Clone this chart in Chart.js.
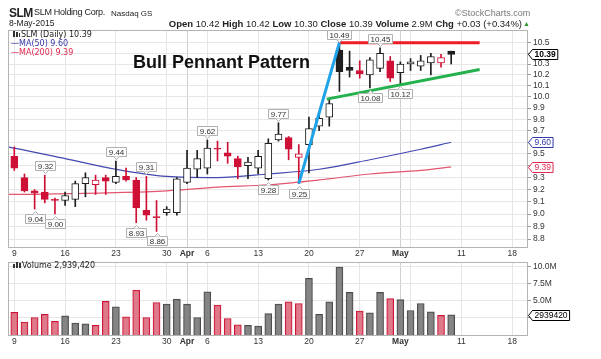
<!DOCTYPE html>
<html><head><meta charset="utf-8">
<script src="https://cdn.jsdelivr.net/npm/chart.js@4.4.1/dist/chart.umd.min.js"></script>
<style>
html,body{margin:0;padding:0;background:#fff;}
body{width:601px;height:359px;position:relative;overflow:hidden;}
.t{position:absolute;white-space:nowrap;line-height:1;font-family:"Liberation Sans",Arial,sans-serif;color:#222;}
.d{font-family:"DejaVu Sans",Verdana,sans-serif;}
#w1{position:absolute;left:0;top:0;width:601px;height:262px;}
#w2{position:absolute;left:0;top:255px;width:601px;height:104px;}
.ic{position:absolute;background:#333;}
</style></head><body>
<div id="w1"><canvas id="c1" width="601" height="262"></canvas></div>
<div id="w2"><canvas id="c2" width="601" height="104"></canvas></div>

<div class="t" style="left:9px;top:7px;font-size:12px;font-weight:bold;letter-spacing:-0.6px;">SLM</div>
<div class="t" style="left:34px;top:8px;font-size:9px;letter-spacing:-0.3px;">SLM Holding Corp.</div>
<div class="t" style="left:111px;top:9.5px;font-size:8px;">Nasdaq GS</div>
<div class="t" style="left:9px;top:19px;font-size:8.5px;">8-May-2015</div>
<div class="t" style="right:79px;top:18.5px;font-size:9.5px;"><b>Open</b> 10.42 <b>High</b> 10.42 <b>Low</b> 10.30 <b>Close</b> 10.39 <b>Volume</b> 2.9M <b>Chg</b> +0.03 (+0.34%)</div>
<div class="t" style="left:523px;top:20px;font-size:7px;color:#2a9a2a;">▲</div>
<div class="t" style="left:455px;top:8.5px;font-size:9px;color:#777;">©StockCharts.com</div>

<div class="ic" style="left:13px;top:31px;width:2px;height:6px;"></div>
<div class="ic" style="left:16px;top:32px;width:2px;height:5px;"></div>
<div class="ic" style="left:19px;top:33px;width:1px;height:4px;"></div>
<div class="t d" style="left:21px;top:30.5px;font-size:8px;color:#222;">SLM (Daily) 10.39</div>
<div class="t d" style="left:11px;top:39.5px;font-size:8px;color:#3438a8;">—MA(50) 9.60</div>
<div class="t d" style="left:11px;top:48.5px;font-size:8px;color:#e0284e;">—MA(200) 9.39</div>
<div class="t" style="left:133px;top:52.5px;font-size:18px;font-weight:bold;color:#111;">Bull Pennant Pattern</div>

<div class="ic" style="left:13px;top:264px;width:2px;height:4px;"></div>
<div class="ic" style="left:16px;top:262px;width:2px;height:6px;"></div>
<div class="ic" style="left:19px;top:263px;width:2px;height:5px;"></div>
<div class="t d" style="left:22px;top:261.5px;font-size:8px;color:#222;">Volume 2,939,420</div>

<script>
// ---------- DATA ----------
const dates = ['2015-03-09','2015-03-10','2015-03-11','2015-03-12','2015-03-13',
 '2015-03-16','2015-03-17','2015-03-18','2015-03-19','2015-03-20',
 '2015-03-23','2015-03-24','2015-03-25','2015-03-26','2015-03-27',
 '2015-03-30','2015-03-31','2015-04-01','2015-04-02',
 '2015-04-06','2015-04-07','2015-04-08','2015-04-09','2015-04-10',
 '2015-04-13','2015-04-14','2015-04-15','2015-04-16','2015-04-17',
 '2015-04-20','2015-04-21','2015-04-22','2015-04-23','2015-04-24',
 '2015-04-27','2015-04-28','2015-04-29','2015-04-30','2015-05-01',
 '2015-05-04','2015-05-05','2015-05-06','2015-05-07','2015-05-08'];
const opens  = [9.48,9.30,9.19,9.18,9.12, 9.11,9.12,9.25,9.24,9.30, 9.26,9.31,9.28,9.03,8.98, 9.01,9.01,9.26,9.37,
                9.38,9.55,9.51,9.46,9.40, 9.38,9.29,9.62,9.64,9.47, 9.58,9.74,9.82,10.43,10.27, 10.24,10.20,10.26,10.33,10.22,
                10.30,10.28,10.31,10.31,10.42];
const highs  = [9.56,9.33,9.20,9.32,9.13, 9.18,9.27,9.34,9.32,9.32, 9.44,9.38,9.30,9.31,9.11, 9.06,9.30,9.53,9.53,
                9.62,9.61,9.60,9.48,9.47, 9.53,9.63,9.77,9.65,9.58, 9.82,9.85,9.98,10.49,10.42, 10.33,10.36,10.45,10.37,10.32,
                10.35,10.38,10.40,10.39,10.42];
const lows   = [9.36,9.18,9.04,9.09,9.00, 9.07,9.06,9.14,9.16,9.16, 9.25,9.27,8.93,8.95,8.86, 8.99,8.99,9.25,9.30,
                9.33,9.44,9.42,9.29,9.29, 9.33,9.28,9.61,9.45,9.25, 9.34,9.70,9.74,10.05,10.18, 10.17,10.08,10.23,10.14,10.12,
                10.24,10.24,10.20,10.27,10.30];
const closes = [9.38,9.19,9.17,9.12,9.11, 9.15,9.25,9.30,9.28,9.27, 9.31,9.28,9.05,8.99,8.97, 9.04,9.29,9.38,9.46,
                9.55,9.54,9.48,9.39,9.43, 9.48,9.59,9.67,9.54,9.50, 9.72,9.81,9.94,10.23,10.24, 10.21,10.34,10.40,10.17,10.30,
                10.32,10.33,10.37,10.36,10.39];
const closeBeforeFirst = 9.55;
const volumes = [3.28e6,1.89e6,2.54e6,3.00e6,1.99e6, 2.78e6,1.75e6,1.61e6,1.39e6,4.90e6, 4.11e6,2.64e6,6.53e6,2.54e6,4.72e6,
                 4.49e6,5.22e6,4.49e6,2.54e6, 6.29e6,4.35e6,2.40e6,1.47e6,1.39e6, 1.29e6,3.10e6,4.49e6,4.81e6,4.58e6,
                 8.24e6,3.00e6,4.81e6,9.86e6,6.20e6, 3.47e6,3.24e6,6.20e6,5.28e6,5.14e6, 3.56e6,4.58e6,3.37e6,2.86e6,2939420];

const ma50Idx  = [-0.62,0,5,10,15,20,25,30,35,40,43];
const ma50Val  = [9.56,9.55,9.46,9.37,9.31,9.30,9.33,9.37,9.45,9.54,9.60];
const ma200Idx = [-0.62,0,10,15,20,25,30,35,40,43];
const ma200Val = [9.16,9.16,9.175,9.19,9.22,9.24,9.28,9.33,9.36,9.39];

const poleIdx = [28,32];       const poleVal = [9.25,10.50];
const resIdx  = [31.9,45.8];   const resVal  = [10.50,10.50];
const supIdx  = [30.75,45.8];  const supVal  = [9.98,10.25];

const markIdx = [3,2,4,10,13,12,14,19,26,25,28,32,36,35,38];
const markVal = [9.32,9.04,9.00,9.44,9.31,8.93,8.86,9.62,9.77,9.28,9.25,10.49,10.45,10.08,10.12];
const markPos = ['above','below','below','above','above','below','below','above','above','below','below','above','above','below','below'];

const xTickIdx  = [0,5,10,15,17,19,24,29,34,38,39,44,49];
const xTickText = ['9','16','23','30','Apr','6','13','20','27','May','','11','18'];
const monthTickIdx = [17,38];
const priceTicks = [8.8,8.9,9.0,9.1,9.2,9.3,9.4,9.5,9.6,9.7,9.8,9.9,10.0,10.1,10.2,10.3,10.4,10.5];
const volTicks = [2.5e6,5e6,7.5e6,10e6];
const volTickText = ['2.5M','5.0M','7.5M','10.0M'];

// ---------- STYLE ----------
const RED = '#cf1036', BLACK = '#1e1e1e';
const FONT = '"Liberation Sans", Arial, sans-serif';
Chart.defaults.font.family = FONT;
Chart.defaults.animation = false;

const up = dates.map((d,i)=> closes[i] >= (i===0 ? closeBeforeFirst : closes[i-1]));
const candleColor = up.map(u=> u ? BLACK : RED);

function xScaleOpts(h){
  return {
    type:'linear', min:-0.62, max:50.56, bounds:'data', offset:false,
    afterBuildTicks: s => { s.ticks = xTickIdx.map(v=>({value:v})); },
    afterFit: s => { s.height = h; },
    ticks:{ autoSkip:false, maxRotation:0, padding:2, color:'#333',
      callback:(v)=> { const k = xTickIdx.indexOf(v); return k>=0 ? xTickText[k] : ''; },
      font:(c)=>({family:FONT, size:8.5, weight: (c.tick && monthTickIdx.includes(c.tick.value)) ? 'bold':'normal'}) },
    grid:{ offset:false, drawTicks:false,
      color:(c)=> (c.tick && monthTickIdx.includes(c.tick.value)) ? '#cfcfcf' : '#e6e6e6' },
    border:{display:false}
  };
}

function frame(chart){
  const a = chart.chartArea, ctx = chart.ctx;
  ctx.save(); ctx.strokeStyle='#b4b4b4'; ctx.lineWidth=1;
  ctx.strokeRect(Math.round(a.left)+0.5, Math.round(a.top)+0.5, Math.round(a.right-a.left)-1, Math.round(a.bottom-a.top));
  ctx.restore();
}

function tag(ctx, xl, yc, text, color, bold){
  ctx.save();
  ctx.font = (bold?'bold ':'') + '8.5px ' + FONT;
  const w = ctx.measureText(text).width + 4, h = 10;
  yc = Math.round(yc)+0.5; xl = Math.round(xl)+0.5;
  ctx.beginPath();
  ctx.moveTo(xl, yc); ctx.lineTo(xl+4, yc-h/2); ctx.lineTo(xl+4+w, yc-h/2);
  ctx.lineTo(xl+4+w, yc+h/2); ctx.lineTo(xl+4, yc+h/2); ctx.closePath();
  ctx.fillStyle='#fff'; ctx.fill(); ctx.strokeStyle=color; ctx.lineWidth=1; ctx.stroke();
  ctx.fillStyle=color; ctx.textAlign='left'; ctx.textBaseline='middle';
  ctx.fillText(text, xl+6, yc+0.5);
  ctx.restore();
}

const pricePlugin = {
  id:'priceMarks',
  afterDatasetsDraw(chart){
    const ctx = chart.ctx, xs = chart.scales.x, ys = chart.scales.y;
    ctx.save();
    ctx.font = '8px ' + FONT; ctx.textAlign='center'; ctx.textBaseline='middle';
    markIdx.forEach((ix,k)=>{
      const x = Math.round(xs.getPixelForValue(ix)), y = ys.getPixelForValue(markVal[k]);
      const txt = markVal[k].toFixed(2);
      const w = Math.round(ctx.measureText(txt).width + 4), h = 9;
      const above = markPos[k]==='above';
      const by = Math.round(above ? y - 5 - h : y + 5);
      ctx.fillStyle='#fdfdfd'; ctx.strokeStyle='#b0b0b0'; ctx.lineWidth=1;
      ctx.beginPath();
      ctx.rect(x - w/2 + 0.5, by + 0.5, w, h);
      ctx.fill(); ctx.stroke();
      ctx.beginPath();
      if (above){ ctx.moveTo(x-2.5, by+h+0.5); ctx.lineTo(x+0.5, by+h+3.5); ctx.lineTo(x+3.5, by+h+0.5); }
      else { ctx.moveTo(x-2.5, by+0.5); ctx.lineTo(x+0.5, by-2.5); ctx.lineTo(x+3.5, by+0.5); }
      ctx.fill(); ctx.stroke();
      ctx.fillStyle='#333';
      ctx.fillText(txt, x+0.5, by + h/2 + 1);
    });
    ctx.restore();
  },
  afterDraw(chart){
    frame(chart);
    const ys = chart.scales.y, r = chart.chartArea.right;
    tag(chart.ctx, r, ys.getPixelForValue(ma50Val[ma50Val.length-1]), ma50Val[ma50Val.length-1].toFixed(2), '#3438a8', false);
    tag(chart.ctx, r, ys.getPixelForValue(ma200Val[ma200Val.length-1]), ma200Val[ma200Val.length-1].toFixed(2), '#e0284e', false);
    tag(chart.ctx, r, ys.getPixelForValue(closes[closes.length-1]), closes[closes.length-1].toFixed(2), '#000', true);
  }
};

const volPlugin = {
  id:'volMarks',
  afterDraw(chart){
    frame(chart);
    const ys = chart.scales.y, v = volumes[volumes.length-1];
    tag(chart.ctx, chart.chartArea.right, ys.getPixelForValue(v), String(v), '#000', false);
  }
};

// ---------- PRICE CHART ----------
new Chart(document.getElementById('c1'), {
  type:'bar',
  data:{ datasets:[
    { type:'line', data: resIdx.map((x,i)=>({x, y:resVal[i]})), borderColor:'#ee1c24', borderWidth:3, pointRadius:0, order:-3 },
    { type:'line', data: supIdx.map((x,i)=>({x, y:supVal[i]})), borderColor:'#22b14c', borderWidth:3, pointRadius:0, order:-2 },
    { type:'line', data: poleIdx.map((x,i)=>({x, y:poleVal[i]})), borderColor:'#1ea2e8', borderWidth:3, pointRadius:0, order:-4 },
    { type:'bar', data: dates.map((d,i)=>({x:i, y:[opens[i], closes[i]]})), grouped:false, barThickness:7,
      backgroundColor: dates.map((d,i)=> closes[i] < opens[i] ? candleColor[i] : '#ffffff'),
      borderColor: candleColor, borderWidth:1, borderSkipped:false, order:1 },
    { type:'bar', data: dates.map((d,i)=>({x:i, y:[lows[i], highs[i]]})), grouped:false, barThickness:1,
      backgroundColor: candleColor, borderWidth:0, order:2 },
    { type:'line', data: ma50Idx.map((x,i)=>({x, y:ma50Val[i]})), borderColor:'#4349b0', borderWidth:1.2, pointRadius:0, cubicInterpolationMode:'monotone', order:3 },
    { type:'line', data: ma200Idx.map((x,i)=>({x, y:ma200Val[i]})), borderColor:'#e2566e', borderWidth:1.2, pointRadius:0, cubicInterpolationMode:'monotone', order:3 }
  ]},
  options:{
    responsive:false, animation:false,
    layout:{ padding:{ left:8, top:30, right:0, bottom:0 } },
    plugins:{ legend:{display:false}, tooltip:{enabled:false} },
    scales:{
      x: xScaleOpts(15),
      y: { type:'logarithmic', position:'right', min:8.737, max:10.62, bounds:'data',
        afterBuildTicks: s => { s.ticks = priceTicks.map(v=>({value:v})); },
        afterFit: s => { s.width = 73; },
        ticks:{ autoSkip:false, padding:2, color:'#333', font:{family:FONT, size:8.5}, callback:(v)=> Number(v).toFixed(1) },
        grid:{ color:'#e6e6e6', tickLength:3, tickColor:'#999' },
        border:{display:false} }
    }
  },
  plugins:[pricePlugin]
});

// ---------- VOLUME CHART ----------
new Chart(document.getElementById('c2'), {
  type:'bar',
  data:{ datasets:[
    { data: dates.map((d,i)=>({x:i, y:volumes[i]})), barThickness:7,
      backgroundColor: up.map(u=> u ? 'rgba(120,120,120,0.9)' : 'rgba(218,108,124,0.9)'),
      borderColor: up.map(u=> u ? '#4a4a4a' : '#cf1036'), borderWidth:1, borderSkipped:'start' }
  ]},
  options:{
    responsive:false, animation:false,
    layout:{ padding:{ left:8, top:4, right:0, bottom:0 } },
    plugins:{ legend:{display:false}, tooltip:{enabled:false} },
    scales:{
      x: xScaleOpts(24),
      y: { type:'linear', position:'right', min:0, max:10.6e6, bounds:'data',
        afterBuildTicks: s => { s.ticks = volTicks.map(v=>({value:v})); },
        afterFit: s => { s.width = 73; },
        ticks:{ autoSkip:false, padding:2, color:'#333', font:{family:FONT, size:8.5},
          callback:(v)=> { const k = volTicks.indexOf(v); return k>=0 ? volTickText[k] : ''; } },
        grid:{ color:'#e6e6e6', tickLength:3, tickColor:'#999' },
        border:{display:false} }
    }
  },
  plugins:[volPlugin]
});
</script>
</body></html>
